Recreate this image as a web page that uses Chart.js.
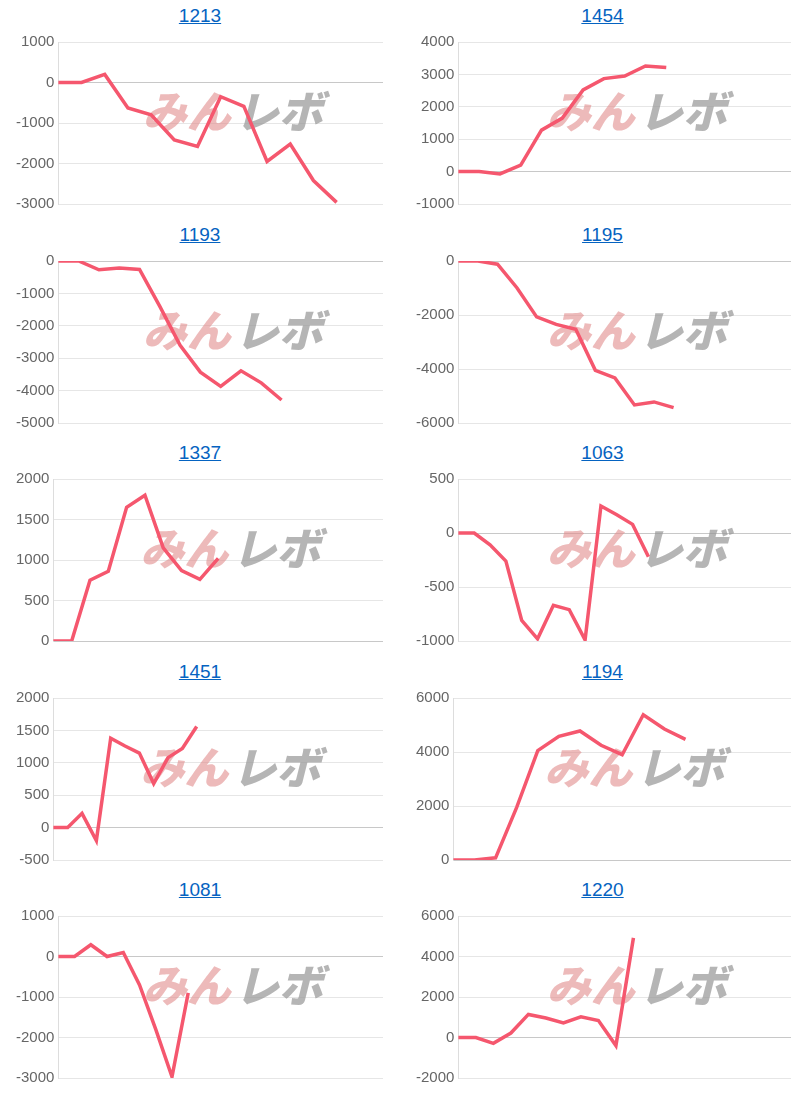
<!DOCTYPE html>
<html><head><meta charset="utf-8">
<script src="https://cdn.jsdelivr.net/npm/chart.js@4"></script>
<style>
body{margin:0;background:#fff;font-family:Arial,"Liberation Sans",sans-serif;}
#grid{display:grid;grid-template-columns:400px 405px;width:810px;}
.cell{height:218.5px;position:relative;}
.t{height:29px;text-align:center;padding-top:5px;box-sizing:border-box;}
.t a{color:#0563c1;font-size:19px;text-decoration:underline;}
.c{height:188px;position:relative;}
</style></head><body><div id="grid"></div>
<script>
const titles = ["1213","1454","1193","1195","1337","1063","1451","1194","1081","1220"];
const labelCounts = [15,17,17,18,19,22,24,17,21,20];
const s1213 = [0,0,200,-630,-800,-1420,-1580,-350,-590,-1950,-1520,-2420,-2960];
const s1454 = [0,0,-70,200,1280,1650,2520,2870,2950,3260,3210];
const s1193 = [0,0,-270,-220,-260,-1400,-2600,-3430,-3870,-3390,-3760,-4290];
const s1195 = [0,0,-120,-1000,-2070,-2350,-2530,-4050,-4330,-5330,-5220,-5430];
const s1337 = [0,0,750,860,1650,1800,1150,870,760,1020];
const s1063 = [0,0,-110,-260,-810,-980,-670,-710,-990,250,170,80,-220];
const s1451 = [0,0,220,-200,1380,1260,1150,680,1080,1220,1560];
const s1194 = [0,0,80,1950,4050,4580,4780,4250,3900,5380,4850,4470];
const s1081 = [0,0,290,0,100,-700,-1800,-2970,-900];
const s1220 = [0,0,-290,220,1140,960,720,1020,840,-400,4920];
const series = [s1213,s1454,s1193,s1195,s1337,s1063,s1451,s1194,s1081,s1220];
const yMin = [-3000,-1000,-5000,-6000,0,-1000,-500,0,-3000,-2000];
const yMax = [1000,4000,0,0,2000,500,2000,6000,1000,6000];
const yStep = [1000,1000,1000,2000,500,500,500,2000,1000,2000];

const wm = {id:'wm',beforeDatasetsDraw(ch){
  const a=ch.chartArea,ctx=ch.ctx;ctx.save();
  ctx.font='italic 900 44px "Noto Sans CJK JP"';ctx.textBaseline='middle';
  const cx=(a.left+a.right)/2+10, cy=a.top+(a.bottom-a.top)*0.43;
  ctx.fillStyle='rgba(225,140,140,0.6)';ctx.textAlign='right';ctx.fillText('みん',cx,cy);
  ctx.fillStyle='rgba(150,150,150,0.7)';ctx.textAlign='left';ctx.fillText('レボ',cx+4,cy);
  ctx.restore();}};

const g=document.getElementById('grid');
titles.forEach((t,i)=>{
  const cell=document.createElement('div');cell.className='cell';
  cell.innerHTML='<div class="t"><a href="#">'+t+'</a></div><div class="c"><canvas></canvas></div>';
  g.appendChild(cell);
  const cv=cell.querySelector('canvas');
  new Chart(cv,{type:'line',plugins:[wm],
    data:{labels:Array(labelCounts[i]).fill(''),datasets:[{data:series[i],borderColor:'#f5576e',borderWidth:3.5,pointRadius:0,tension:0,fill:false}]},
    options:{responsive:true,maintainAspectRatio:false,animation:false,
      layout:{padding:{left:12,right:i%2?14:17,bottom:4,top:0}},
      plugins:{legend:{display:false},tooltip:{enabled:false}},
      scales:{x:{display:false},
        y:{min:yMin[i],max:yMax[i],ticks:{stepSize:yStep[i],padding:4,color:'#666',font:{size:15,family:'Arial'},callback:v=>String(v)},
           border:{color:'#ddd'},
           grid:{drawTicks:false,color:c=>c.tick&&c.tick.value===0?'#c8c8c8':'#e6e6e6'}}}}});
});
</script></body></html>
